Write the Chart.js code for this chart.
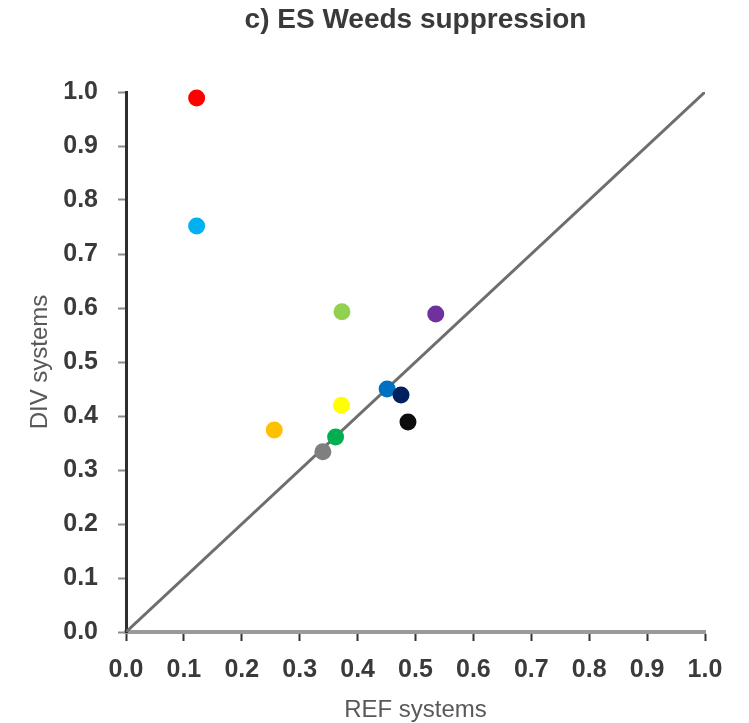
<!DOCTYPE html>
<html>
<head>
<meta charset="utf-8">
<script src="https://cdn.jsdelivr.net/npm/chart.js@4/dist/chart.umd.min.js"></script>
<style>
    html, body { margin: 0; padding: 0; background: #ffffff; }
    canvas { display: block; }
</style>
</head>
<body>
<canvas id="weedsChart" width="749" height="723"></canvas>
<script>
// Data (REF system score vs DIV system score)
const systemColors = ['#ff0000', '#00b0f0', '#92d050', '#7030a0', '#0070c0', '#002060', '#ffff00', '#ffc000', '#0d0d0d', '#00b050', '#7f7f7f'];
const refValues = [0.122, 0.122, 0.373, 0.535, 0.451, 0.475, 0.372, 0.256, 0.487, 0.362, 0.340];
const divValues = [0.989, 0.752, 0.593, 0.589, 0.450, 0.439, 0.420, 0.374, 0.389, 0.361, 0.334];
const diagonal = [0, 1];
const axisTicks = [0, 0.1, 0.2, 0.3, 0.4, 0.5, 0.6, 0.7, 0.8, 0.9, 1.0];

const fontFamily = '"Liberation Sans", Arial, sans-serif';

const ctx = document.getElementById('weedsChart');

new Chart(ctx, {
    type: 'scatter',
    data: {
        datasets: [
            {
                label: 'Systems',
                data: refValues.map((x, i) => ({ x: x, y: divValues[i] })),
                pointBackgroundColor: systemColors,
                pointBorderWidth: 0,
                pointRadius: 8.5,
                showLine: false,
                order: 1,
                clip: false
            },
            {
                label: '1:1',
                type: 'line',
                data: diagonal.map(v => ({ x: v, y: v })),
                borderColor: '#6e6e6e',
                borderWidth: 3,
                pointRadius: 0,
                fill: false,
                order: 2
            }
        ]
    },
    options: {
        responsive: false,
        animation: false,
        layout: {
            padding: { left: 0, right: 44, top: 0, bottom: 0 }
        },
        plugins: {
            legend: { display: false },
            tooltip: { enabled: false },
            title: {
                display: true,
                text: 'c) ES Weeds suppression',
                fullSize: false,
                color: '#3a3a3a',
                font: { family: fontFamily, size: 28, weight: 'bold', lineHeight: 1.2 },
                padding: { top: 3, bottom: 55.4 }
            }
        },
        scales: {
            x: {
                type: 'linear',
                min: 0,
                max: 1,
                afterBuildTicks: scale => { scale.ticks = axisTicks.map(v => ({ value: v })); },
                afterFit: scale => { scale.height = 91; },
                border: { color: '#9a9a9a', width: 4 },
                grid: {
                    drawOnChartArea: false,
                    drawTicks: true,
                    tickLength: 9,
                    tickWidth: 2,
                    tickColor: '#333333'
                },
                ticks: {
                    padding: 14,
                    color: '#3a3a3a',
                    font: { family: fontFamily, size: 25, weight: 'bold' },
                    callback: v => v.toFixed(1)
                },
                title: {
                    display: true,
                    text: 'REF systems',
                    color: '#595959',
                    font: { family: fontFamily, size: 24, lineHeight: 1 },
                    padding: { top: 0, bottom: 1 }
                }
            },
            y: {
                type: 'linear',
                min: 0,
                max: 1,
                afterBuildTicks: scale => { scale.ticks = axisTicks.map(v => ({ value: v })); },
                afterFit: scale => { scale.width = 126; },
                border: { color: '#2e2e2e', width: 3 },
                grid: {
                    drawOnChartArea: false,
                    drawTicks: true,
                    tickLength: 8,
                    tickWidth: 2,
                    tickColor: '#8a8a8a'
                },
                ticks: {
                    padding: 20,
                    color: '#3a3a3a',
                    font: { family: fontFamily, size: 25, weight: 'bold' },
                    callback: v => v.toFixed(1)
                },
                title: {
                    display: true,
                    text: 'DIV systems',
                    color: '#595959',
                    font: { family: fontFamily, size: 24, lineHeight: 1 },
                    padding: { top: 28, bottom: 0 }
                }
            }
        }
    }
});
</script>
</body>
</html>
